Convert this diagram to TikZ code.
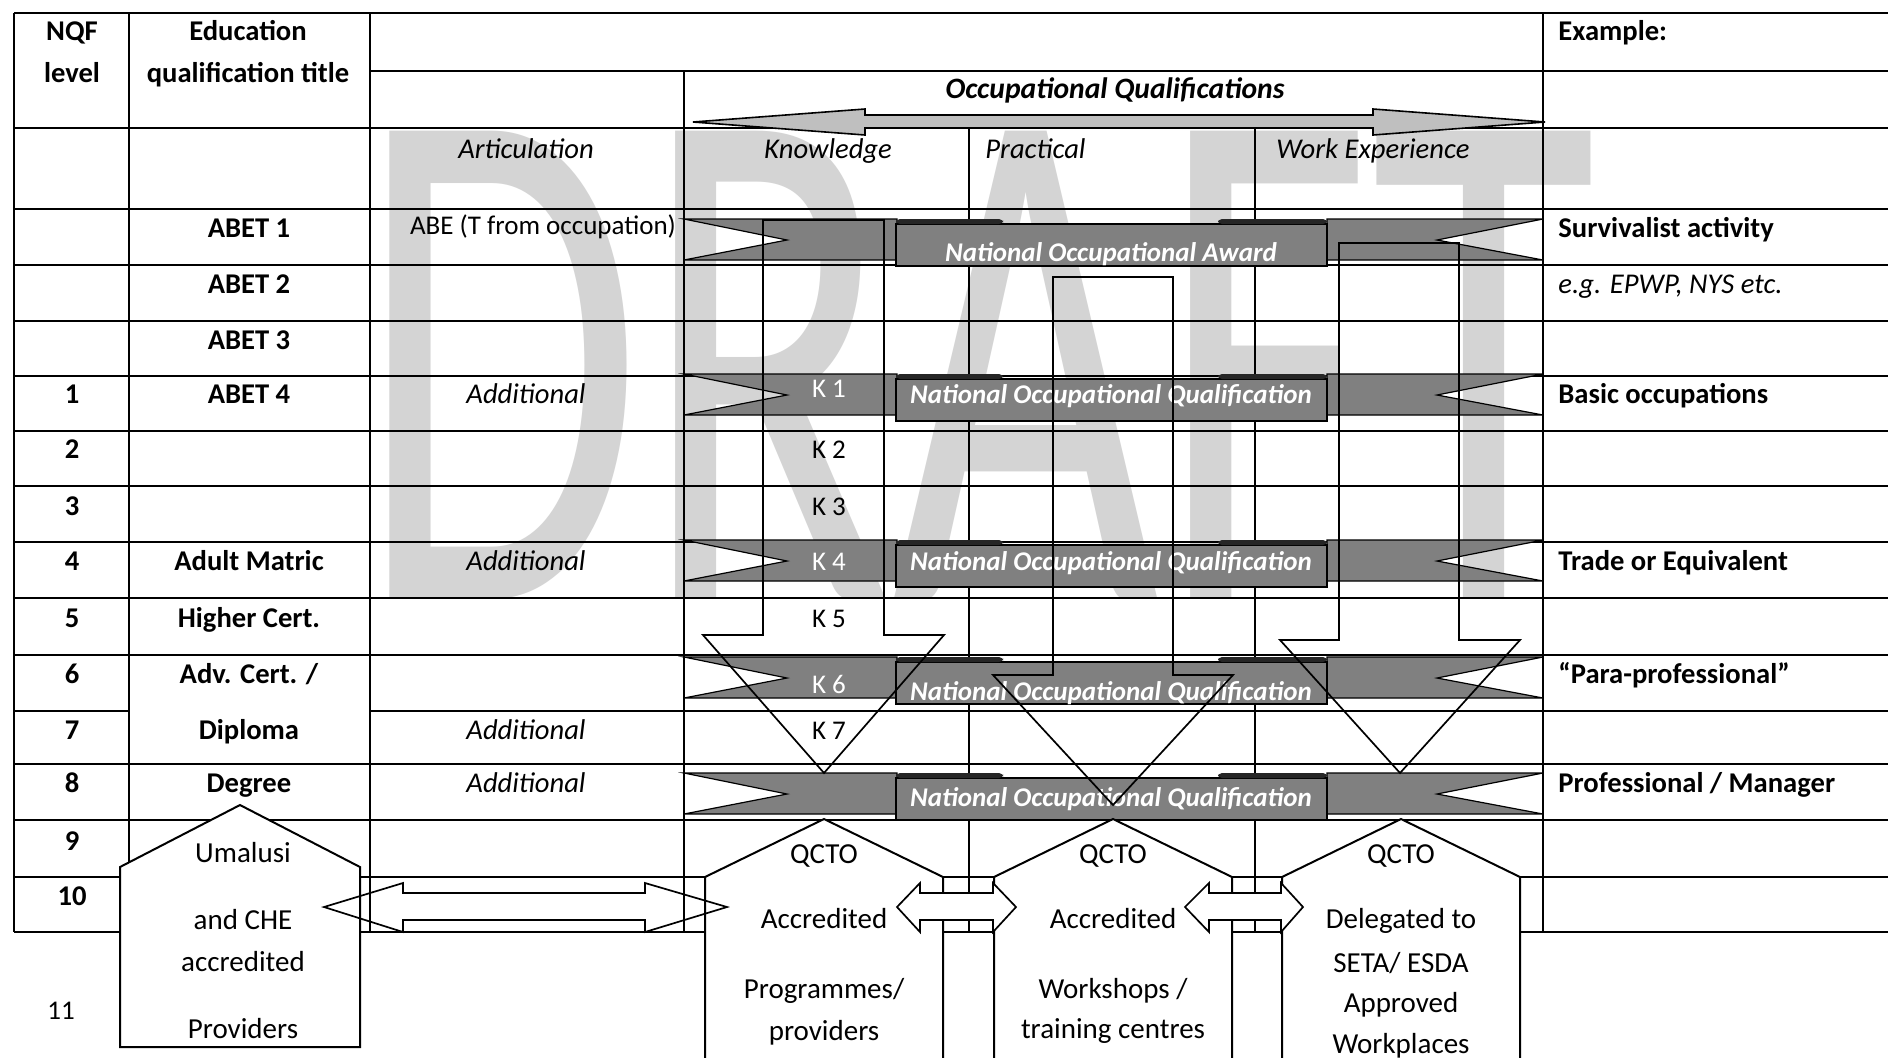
\documentclass[tikz,border=0pt]{standalone}
\usepackage{fontspec}
\setmainfont{Carlito}
\newcommand\tabfont{\fontsize{13.5}{16}\selectfont}
\newcommand\tabbfont{\fontsize{14.3}{17}\selectfont}
\newcommand\occfont{\fontsize{14.8}{17}\selectfont}
\newcommand\housefont{\fontsize{14.5}{17}\selectfont}
\newcommand\draftfont{\fontsize{365}{365}\selectfont}
\begin{document}
\begin{tikzpicture}[x=0.5pt, y=-0.5pt,
  tabline/.style={line width=1.2pt},
  thinline/.style={line width=0.9pt},
  banner/.style={fill=black!50, draw=black, line width=0.6pt},
  downarr/.style={draw=black, line width=0.85pt},
  house/.style={fill=white, draw=black, line width=1pt},
  dblarr/.style={draw=black, line width=0.85pt},
  txt/.style={anchor=base, inner sep=0pt, font=\tabfont},
  txtb/.style={txt, font=\tabbfont\bfseries},
  txti/.style={txt, font=\tabbfont\itshape},
  bantxt/.style={txt, text=white, font=\tabfont\bfseries\itshape},
  hstxt/.style={txt, font=\housefont}]

  % Le fond
  \clip (0,0) rectangle (1888,1057);
  \fill[white] (0,0) rectangle (1888,1057);

  % Le filigrane
  \node[anchor=base west, inner sep=0pt, text=black!17, font=\draftfont] (draft) at (358,599) {\scalebox{0.632}[1]{DRAFT}};

  % Les lignes du tableau
  \draw[tabline] (14,13) -- (1888,13);
  \draw[tabline] (370,71) -- (1888,71);
  \foreach \y in {128,209,265,321,376,431,486,542,598,655,764,820,877,932}
    \draw[tabline] (14,\y) -- (1888,\y);
  \draw[tabline] (14,711) -- (129,711);
  \draw[tabline] (370,711) -- (1888,711);
  \foreach \x in {14,129,370,1543}
    \draw[tabline] (\x,13) -- (\x,932);
  \draw[thinline] (684,71) -- (684,932);
  \foreach \x in {969,1255}
    \draw[thinline] (\x,128) -- (\x,932);

  % La grande fleche
  \filldraw[fill=black!25, draw=black, line width=0.8pt] (693,122) -- (865,109) -- (865,115) -- (1373,115) -- (1373,109) -- (1545,122) -- (1373,135) -- (1373,128) -- (865,128) -- (865,135) -- cycle;

  % Les textes du tableau
  \node[txtb] (nqf) at (72,40) {NQF};
  \node[txtb] (lvl) at (72,82) {level};
  \node[txtb] (edu) at (248,40) {Education};
  \node[txtb] (qtitle) at (248,82) {qualification title};
  \node[txtb, anchor=base west] (ex) at (1558,40) {Example:};
  \node[txt, font=\occfont\bfseries\itshape] (occ) at (1115,98) {Occupational Qualifications};
  \node[txti] (art) at (526,158) {Articulation};
  \node[txti] (know) at (828,158) {Knowledge};
  \node[txti, anchor=base west] (prac) at (985,158) {Practical};
  \node[txti, anchor=base west] (work) at (1276,158) {Work Experience};

  \foreach \n/\y in {1/403,2/458,3/515,4/570,5/627,6/683,7/739,8/792,9/850,10/905}
    \node[txtb] (lv\n) at (72,\y) {\n};
  \node[txt] (lv11) at (61,1019) {11};

  \foreach \t/\y [count=\i] in {ABET 1/237, ABET 2/293, ABET 3/349, ABET 4/403, Adult Matric/570, Higher Cert./627, {Adv. Cert. /}/683, Diploma/739, Degree/792}
    \node[txtb] (qual\i) at (249,\y) {\t};

  \node[txt] (abe) at (543,234) {ABE (T from occupation)};
  \foreach \y [count=\i] in {403,570,739,792}
    \node[txti] (add\i) at (526,\y) {Additional};

  \node[txtb, anchor=base west] (ex1) at (1558,237) {Survivalist activity};
  \node[txti, anchor=base west] (ex2) at (1558,293) {e.g. EPWP, NYS etc.};
  \node[txtb, anchor=base west] (ex3) at (1558,403) {Basic occupations};
  \node[txtb, anchor=base west] (ex4) at (1558,570) {Trade or Equivalent};
  \node[txtb, anchor=base west] (ex5) at (1558,683) {“Para-professional”};
  \node[txtb, anchor=base west] (ex6) at (1558,792) {Professional / Manager};

  % Les rubans
  \foreach \yt/\lab/\ty in {219/Award/261, 374/Qualification/403, 540/Qualification/570, 657/Qualification/700, 773/Qualification/806} {
    \filldraw[banner] (684,\yt) -- (897,\yt) -- (897,\yt+41) -- (684,\yt+41) -- (787,\yt+21) -- cycle;
    \filldraw[banner] (1327,\yt) -- (1543,\yt) -- (1437,\yt+21) -- (1543,\yt+41) -- (1327,\yt+41) -- cycle;
    \filldraw[banner] (896,\yt+5) rectangle (1327,\yt+47);
    \fill[black!85, rounded corners=2pt] (896,\yt) -- (1003,\yt) -- (1003,\yt+5) -- (896,\yt+5) -- cycle;
    \fill[black!85, rounded corners=2pt] (1218,\yt) -- (1327,\yt) -- (1327,\yt+5) -- (1218,\yt+5) -- cycle;
    \node[bantxt] (ban\yt) at (1111,\ty) {National Occupational \lab};
  }

  % Les niveaux K
  \foreach \k/\y/\c in {1/397/white, 2/458/black, 3/515/black, 4/570/white, 5/627/black, 6/693/white, 7/739/black}
    \node[txt, text=\c] (k\k) at (829,\y) {K \k};

  % Les fleches vers le bas
  \draw[downarr] (763,220) -- (884,220) -- (884,635) -- (944,635) -- (824,773) -- (703,635) -- (763,635) -- cycle;
  \draw[downarr] (1053,277) -- (1173,277) -- (1173,675) -- (1233,675) -- (1113,805) -- (993,675) -- (1053,675) -- cycle;
  \draw[downarr] (1339,243) -- (1459,243) -- (1459,640) -- (1520,640) -- (1400,773) -- (1280,640) -- (1339,640) -- cycle;

  % Les maisons
  \filldraw[house] (120,867) -- (240,805) -- (360,867) -- (360,1047) -- (120,1047) -- cycle;
  \foreach \cx in {824,1113,1401}
    \filldraw[house] (\cx-119,877) -- (\cx,819) -- (\cx+119,877) -- (\cx+119,1080) -- (\cx-119,1080) -- cycle;

  \foreach \t/\y [count=\i] in {Umalusi/862, and CHE/929, accredited/971, Providers/1038}
    \node[hstxt] (uma\i) at (243,\y) {\t};
  \foreach \t/\y [count=\i] in {QCTO/863, Accredited/928, {Programmes/}/998, providers/1040}
    \node[hstxt] (qka\i) at (824,\y) {\t};
  \foreach \t/\y [count=\i] in {QCTO/863, Accredited/928, {Workshops /}/998, training centres/1038}
    \node[hstxt] (qpa\i) at (1113,\y) {\t};
  \foreach \t/\y [count=\i] in {QCTO/863, Delegated to/928, {SETA/ ESDA}/972, Approved/1012, Workplaces/1053}
    \node[hstxt] (qwa\i) at (1401,\y) {\t};

  % Les doubles fleches
  \draw[dblarr] (324,907) -- (403,883) -- (403,893) -- (645,893) -- (645,883) -- (727,907) -- (645,932) -- (645,920) -- (403,920) -- (403,932) -- cycle;
  \filldraw[dblarr, fill=white] (897,907) -- (920,883) -- (920,893) -- (993,893) -- (993,883) -- (1016,907) -- (993,932) -- (993,920) -- (920,920) -- (920,932) -- cycle;
  \filldraw[dblarr, fill=white] (1185,907) -- (1209,883) -- (1209,893) -- (1281,893) -- (1281,883) -- (1303,907) -- (1281,932) -- (1281,920) -- (1209,920) -- (1209,932) -- cycle;

\end{tikzpicture}
\end{document}
